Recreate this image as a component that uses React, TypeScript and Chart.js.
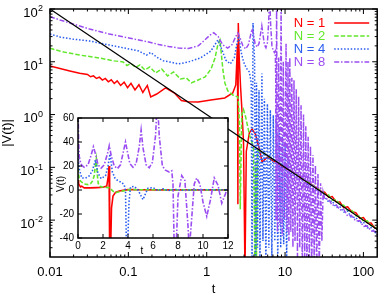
import React, { useEffect, useRef } from 'react';
import { Chart, registerables } from 'chart.js';
Chart.register(...registerables);

const FONT = '"Liberation Sans", Arial, Helvetica, sans-serif';

// ---------- main plot (log-log) ----------
const xTickValues = [0.01, 0.1, 1, 10, 100];
const xTickLabels = ['0.01', '0.1', '1', '10', '100'];
const yTickValues = [100, 10, 1, 0.1, 0.01];
const yTickExps = ['2', '1', '0', '-1', '-2'];

const refT = [0.01, 150];
const refV = [100, 0.00667];

const tailT = [32, 36, 40, 45, 50, 56, 63, 70, 80, 90, 100, 112, 125, 140, 150];

const n1T = [0.01, 0.0134, 0.0179, 0.0239, 0.0301, 0.0329, 0.0359, 0.0392, 0.0427, 0.0466, 0.0508, 0.0555, 0.0605, 0.0661, 0.072, 0.0797, 0.0883, 0.0977, 0.108, 0.1215, 0.1365, 0.153, 0.1746, 0.193, 0.23, 0.2985, 0.388, 0.475, 0.582, 0.779, 1.13, 1.7, 2.15, 2.35, 2.43, 2.47, 2.5, 2.53, 2.6, 2.7, 2.8, 2.95, 3.08, 3.2, 3.5, 3.8, 4.2, 4.7, 5.1, 5.5, 5.95, 6.6, 8, 10, 12, 14, 16, 18, 20, 23, 26, 29];
const n1V = [8.32, 7.46, 6.7, 6.05, 5.75, 5.2, 5.41, 4.83, 5.11, 4.5, 4.83, 4.18, 4.56, 3.88, 4.35, 3.56, 4.11, 3.23, 3.9, 2.92, 3.67, 2.62, 3.56, 2.15, 2.45, 3.19, 2.56, 1.85, 1.75, 1.73, 1.89, 2.06, 2.56, 3.64, 12, 22, 0.02, 54, 12, 3.5, 1.4, 0.3, 0.001, 0.2, 0.45, 0.53, 0.42, 0.22, 0.126, 0.14, 0.157, 0.14, 0.12, 0.096, 0.086, 0.073, 0.065, 0.057, 0.052, 0.045, 0.04, 0.035];
const n1Tail = [0.0338, 0.0272, 0.028, 0.0222, 0.022, 0.0173, 0.0179, 0.0146, 0.0138, 0.0109, 0.0112, 0.0089, 0.0088, 0.00707, 0.00707];

const n2T = [0.01, 0.015, 0.0239, 0.0427, 0.0661, 0.0857, 0.0963, 0.108, 0.1233, 0.1405, 0.1624, 0.1877, 0.2235, 0.266, 0.3166, 0.377, 0.462, 0.55, 0.636, 0.779, 0.954, 1.137, 1.276, 1.393, 1.476, 1.542, 1.61, 1.706, 1.862, 2.153, 2.489, 2.56, 2.62, 2.68, 2.8, 2.95, 3.14, 3.53, 3.96, 4.12, 4.22, 4.32, 4.45, 5.14, 6.87, 8, 10, 12, 14, 16, 18, 20, 23, 26, 29];
const n2V = [18, 15.3, 13.4, 11.8, 10.4, 9.91, 8.51, 9.29, 7.8, 8.7, 7.0, 7.97, 6.14, 7.31, 5.39, 6.41, 4.72, 4.93, 3.97, 4.52, 5.16, 7.31, 11.8, 21.7, 25.9, 13.4, 7.0, 3.97, 2.8, 2.35, 2.16, 1.5, 0.6, 0.016, 1.0, 1.25, 0.9, 0.4, 0.24, 0.001, 0.12, 0.002, 0.21, 0.19, 0.145, 0.128, 0.101, 0.085, 0.074, 0.064, 0.058, 0.051, 0.045, 0.039, 0.036];
const n2Tail = [0.03125, 0.03, 0.02375, 0.02444, 0.0196, 0.0191, 0.01492, 0.01572, 0.01213, 0.012, 0.0095, 0.00973, 0.00784, 0.00757, 0.00667];

const n4T = [0.01, 0.0134, 0.0194, 0.0319, 0.049, 0.0764, 0.102, 0.136, 0.171, 0.193, 0.23, 0.28, 0.34, 0.436, 0.582, 0.83, 1.13, 1.39, 1.57, 1.75, 2.0, 2.25, 2.4, 2.56, 2.75, 2.95, 3.2, 3.5, 3.7, 3.79, 3.9, 4.08, 4.2, 4.32, 4.45, 4.65, 4.78, 5.07, 5.22, 5.45, 5.69, 5.95, 6.21, 6.49, 6.78, 7.08, 7.4, 7.73, 8.07, 8.43, 8.8, 9.19, 9.6, 10.03, 10.48, 10.94, 11.5, 12, 14, 16, 18, 20, 23, 26, 29];
const n4V = [33.6, 29.5, 27.0, 24.8, 21.7, 19.1, 17.5, 16.0, 13.4, 15.0, 12.3, 10.4, 9.9, 9.1, 9.9, 11.8, 16, 25.9, 16.7, 10.8, 9.1, 11.8, 20, 30.8, 15.3, 10, 7.6, 6.4, 4, 0.001, 54, 10.8, 0.001, 4.0, 0.003, 2.9, 0.002, 6.0, 0.004, 2.0, 0.0015, 1.6, 0.003, 1.22, 0.002, 0.98, 0.004, 0.76, 0.0018, 0.58, 0.003, 0.39, 0.0035, 0.25, 0.002, 0.16, 0.09, 0.078, 0.066, 0.058, 0.051, 0.046, 0.04, 0.035, 0.031];
const n4Tail = [0.0275, 0.0222, 0.023, 0.01733, 0.018, 0.01429, 0.01476, 0.01129, 0.01125, 0.00889, 0.0092, 0.00714, 0.0072, 0.00586, 0.00573];

const n8T = [0.01, 0.0134, 0.0179, 0.0239, 0.0319, 0.0427, 0.0571, 0.0764, 0.102, 0.136, 0.182, 0.244, 0.326, 0.436, 0.582, 0.78, 0.95, 1.1, 1.23, 1.4, 1.6, 1.85, 2.1, 2.35, 2.5, 2.65, 2.9, 3.15, 3.4, 3.65, 3.8, 3.95, 4.15, 4.4, 4.65, 4.9, 5.05, 5.2, 5.45, 5.7, 5.95, 6.15, 6.35, 6.55, 6.8, 7.05, 7.3, 7.5, 7.6, 7.66, 7.8, 8.0, 8.3, 8.6, 8.9, 9.2, 9.5, 9.85, 10.3, 10.6, 10.9, 11.2, 11.5, 11.85, 12.2, 12.6, 13.0, 13.4, 13.9, 14.4, 14.9, 15.4, 16.0, 16.6, 17.2, 17.8, 18.4, 19.0, 19.7, 20.4, 21.1, 21.9, 22.7, 23.5, 24.4, 25.3, 26.3, 27.3, 28.4, 29.5, 30.6];
const n8V = [71.5, 61.9, 54.3, 47.6, 41.8, 37.5, 33.6, 30.8, 28.2, 25.9, 23.7, 21.3, 19.5, 18.2, 17.9, 20, 26, 32, 35.5, 30, 21, 18.2, 21, 30, 35.5, 29, 20, 17.5, 21, 33, 42, 32, 22, 19, 22, 36, 48, 35, 21, 18.5, 23, 50, 180, 50, 20, 16.5, 15, 16, 5, 0.01, 150, 0.006, 12, 0.008, 130, 0.005, 10, 0.01, 22, 0.006, 10, 0.004, 12, 0.006, 5, 0.003, 4.5, 0.004, 3, 0.002, 2.2, 0.003, 1.5, 0.001, 1.0, 0.002, 0.6, 0.001, 0.38, 0.0015, 0.25, 0.001, 0.17, 0.002, 0.11, 0.001, 0.075, 0.0012, 0.05, 0.004, 0.034];
const n8Tail = [0.025, 0.025, 0.019, 0.01956, 0.0156, 0.01607, 0.0119, 0.01229, 0.00963, 0.00978, 0.0076, 0.00777, 0.00624, 0.00614, 0.00533];

// ---------- inset (linear) ----------
const insetXTicks = [0, 2, 4, 6, 8, 10, 12];
const insetYTicks = [-40, -20, 0, 20, 40, 60];

const in1T = [0, 0.05, 0.1, 0.2, 0.3, 0.5, 1.0, 1.5, 2.0, 2.3, 2.43, 2.48, 2.51, 2.55, 2.62, 2.68, 2.8, 3.0, 3.3, 3.6, 4.0, 5, 6, 8, 10, 12];
const in1V = [8.3, 5.2, 4.2, 2.6, 3.2, 1.8, 1.75, 2.0, 2.3, 3.3, 12, 20, -10, -45, -45, -15, -5, -2, -0.8, -0.3, 0.3, 0.2, 0.1, 0.1, 0.1, 0.08];

const in2T = [0, 0.05, 0.1, 0.2, 0.3, 0.5, 0.8, 1.0, 1.15, 1.3, 1.4, 1.47, 1.54, 1.62, 1.75, 1.9, 2.2, 2.5, 2.65, 2.8, 3.0, 3.3, 3.7, 4.2, 5, 8, 12];
const in2V = [18, 13, 9.5, 7.5, 6.5, 5, 4.5, 5.2, 7.3, 12, 21.7, 26, 13, 5.5, 3, 2.6, 2.3, 1.8, 0.5, -1, -2.3, -1.5, -0.5, 0.3, 0.2, 0.1, 0.1];

const in4T = [0, 0.05, 0.1, 0.3, 0.6, 0.9, 1.15, 1.39, 1.6, 1.85, 2.2, 2.4, 2.56, 2.75, 2.95, 3.2, 3.5, 3.7, 3.8, 3.87, 3.98, 4.08, 4.2, 4.5, 4.8, 5.05, 5.2, 5.4, 5.6, 6.0, 6.4, 6.8, 7.2, 7.7, 8.5, 9.5, 12];
const in4V = [34, 22, 17.5, 10, 9.9, 11.8, 16, 25, 14, 9.5, 11.8, 20, 30, 15, 10, 7.6, 6.4, 4, 0, -45, -45, -10, 2.5, 3, 0, -5, -8, -3, 1.5, 2, -0.5, 1, -0.5, 0.5, -0.3, 0.2, 0.1];

const in8T = [0, 0.05, 0.1, 0.2, 0.3, 0.5, 0.8, 1.05, 1.23, 1.4, 1.6, 1.85, 2.1, 2.35, 2.5, 2.65, 2.9, 3.15, 3.4, 3.65, 3.8, 3.95, 4.15, 4.4, 4.65, 4.9, 5.05, 5.2, 5.45, 5.7, 5.95, 6.2, 6.35, 6.5, 6.75, 7.0, 7.3, 7.5, 7.6, 7.7, 7.85, 8.0, 8.3, 8.55, 8.8, 8.9, 9.05, 9.3, 9.5, 9.75, 10.0, 10.3, 10.6, 10.9, 11.2, 11.5, 11.8, 12];
const in8V = [72, 40, 28, 23, 20.5, 19, 21, 29, 36, 30, 21, 18.2, 21, 30, 37, 29, 20, 17.8, 21, 33, 40, 32, 22, 19, 22, 36, 50, 35, 21, 18.5, 23, 45, 75, 45, 20, 16.5, 15, 16, 5, -50, -50, -5, 12, 8, -30, -50, -30, 5, 10, 5, -10, -22, -8, 10, 4, -11, -3, 3];

const legendLabels = ['N = 1', 'N = 2', 'N = 4', 'N = 8'];

const C1 = '#ff0000';
const C2 = '#62e82a';
const C4 = '#2a5cf0';
const C8 = '#9b4df2';

function pts(t: number[], v: number[]) {
  const n = Math.min(t.length, v.length);
  const out: { x: number; y: number }[] = [];
  for (let i = 0; i < n; i++) out.push({ x: t[i], y: v[i] });
  return out;
}

function minorLog(min: number, max: number) {
  const out: number[] = [];
  for (let e = -3; e <= 2; e++) {
    for (let m = 2; m <= 9; m++) {
      const v = m * Math.pow(10, e);
      if (v > min * 1.0001 && v < max * 0.9999) out.push(v);
    }
  }
  return out;
}

const mainDecor = {
  id: 'mainDecor',
  afterDraw(chart: any) {
    const { ctx, chartArea: a, scales } = chart;
    const x = scales.x, y = scales.y;
    ctx.save();
    ctx.strokeStyle = '#000';
    ctx.lineWidth = 1;
    ctx.setLineDash([]);
    const seg = (x1: number, y1: number, x2: number, y2: number) => {
      ctx.beginPath(); ctx.moveTo(x1, y1); ctx.lineTo(x2, y2); ctx.stroke();
    };
    for (const v of minorLog(0.01, 150)) {
      const p = x.getPixelForValue(v);
      seg(p, a.bottom, p, a.bottom - 2.5); seg(p, a.top, p, a.top + 2.5);
    }
    for (const v of xTickValues) {
      const p = x.getPixelForValue(v);
      seg(p, a.bottom, p, a.bottom - 5); seg(p, a.top, p, a.top + 5);
    }
    for (const v of minorLog(0.002, 100)) {
      const p = y.getPixelForValue(v);
      seg(a.left, p, a.left + 2.5, p); seg(a.right, p, a.right - 2.5, p);
    }
    for (const v of yTickValues) {
      const p = y.getPixelForValue(v);
      seg(a.left, p, a.left + 5, p); seg(a.right, p, a.right - 5, p);
    }
    ctx.lineWidth = 1.5;
    ctx.strokeRect(a.left, a.top, a.right - a.left, a.bottom - a.top);

    // y tick labels with superscript exponents
    ctx.fillStyle = '#000';
    ctx.textBaseline = 'alphabetic';
    ctx.textAlign = 'right';
    const rx = a.left - 7;
    yTickValues.forEach((v, i) => {
      const p = y.getPixelForValue(v);
      ctx.font = `9px ${FONT}`;
      const ew = ctx.measureText(yTickExps[i]).width;
      ctx.fillText(yTickExps[i], rx, p + 2.2);
      ctx.font = `13px ${FONT}`;
      ctx.fillText('10', rx - ew - 0.3, p + 7.8);
    });

    // legend
    ctx.font = `13px ${FONT}`;
    ctx.textBaseline = 'middle';
    legendLabels.forEach((lab, i) => {
      const ds = chart.data.datasets.find((d: any) => d.label === lab);
      if (!ds) return;
      const ry = a.top + 14 + i * 13;
      ctx.fillStyle = ds.borderColor;
      ctx.textAlign = 'right';
      ctx.fillText(lab, a.right - 52, ry);
      ctx.strokeStyle = ds.borderColor;
      ctx.lineWidth = 1.5;
      ctx.setLineDash(ds.borderDash || []);
      seg(a.right - 43, ry, a.right - 8, ry);
      ctx.setLineDash([]);
    });
    ctx.restore();
  },
};

const insetDecor = {
  id: 'insetDecor',
  beforeDraw(chart: any) {
    const { ctx, chartArea: a } = chart;
    ctx.save();
    ctx.fillStyle = '#fff';
    ctx.fillRect(a.left, a.top, a.right - a.left, a.bottom - a.top);
    ctx.restore();
  },
  afterDraw(chart: any) {
    const { ctx, chartArea: a, scales } = chart;
    const x = scales.x, y = scales.y;
    ctx.save();
    ctx.strokeStyle = '#000';
    ctx.lineWidth = 1;
    const seg = (x1: number, y1: number, x2: number, y2: number) => {
      ctx.beginPath(); ctx.moveTo(x1, y1); ctx.lineTo(x2, y2); ctx.stroke();
    };
    for (const v of insetXTicks) {
      const p = x.getPixelForValue(v);
      seg(p, a.bottom, p, a.bottom - 4); seg(p, a.top, p, a.top + 4);
    }
    for (const v of insetYTicks) {
      const p = y.getPixelForValue(v);
      seg(a.left, p, a.left + 4, p); seg(a.right, p, a.right - 4, p);
    }
    ctx.lineWidth = 1.5;
    ctx.strokeRect(a.left, a.top, a.right - a.left, a.bottom - a.top);
    ctx.fillStyle = '#000';
    ctx.font = `10px ${FONT}`;
    ctx.textAlign = 'center';
    ctx.textBaseline = 'middle';
    ctx.fillText('t', a.left + 64, a.bottom + 13.5);
    ctx.save();
    ctx.translate(a.left - 17, a.top + 66);
    ctx.rotate(-Math.PI / 2);
    ctx.fillText('V(t)', 0, 0);
    ctx.restore();
    ctx.restore();
  },
};

export default function App() {
  const mainRef = useRef<HTMLCanvasElement>(null);
  const insetRef = useRef<HTMLCanvasElement>(null);

  useEffect(() => {
    const tickFont = { family: FONT, size: 13 };
    const main = new Chart(mainRef.current as HTMLCanvasElement, {
      type: 'line',
      data: {
        datasets: [
          { label: 'ref', data: pts(refT, refV), borderColor: '#000', borderWidth: 1.2, order: 0 },
          { label: 'N = 8', data: pts([...n8T, ...tailT], [...n8V, ...n8Tail]), borderColor: C8, borderDash: [5, 1.8, 1.5, 1.8], order: 1 },
          { label: 'N = 4', data: pts([...n4T, ...tailT], [...n4V, ...n4Tail]), borderColor: C4, borderDash: [1.5, 1.8], order: 2 },
          { label: 'N = 2', data: pts([...n2T, ...tailT], [...n2V, ...n2Tail]), borderColor: C2, borderDash: [4.5, 2], order: 3 },
          { label: 'N = 1', data: pts([...n1T, ...tailT], [...n1V, ...n1Tail]), borderColor: C1, order: 4 },
        ] as any,
      },
      options: {
        animation: false,
        responsive: false,
        devicePixelRatio: 1,
        events: [],
        layout: { padding: { top: 9, right: 1, left: 0, bottom: 0 } },
        elements: {
          point: { radius: 0, hoverRadius: 0 },
          line: { tension: 0, borderWidth: 1.5, fill: false },
        },
        plugins: { legend: { display: false }, tooltip: { enabled: false } },
        scales: {
          x: {
            type: 'logarithmic',
            position: 'bottom',
            min: 0.01,
            max: 150,
            grid: { display: false, drawTicks: false, tickLength: 0 },
            border: { display: false },
            afterBuildTicks: (s: any) => { s.ticks = xTickValues.map((v) => ({ value: v })); },
            afterFit: (s: any) => { s.height = 43; },
            ticks: {
              autoSkip: false,
              maxRotation: 0,
              padding: 7.7,
              color: '#000',
              font: tickFont,
              callback: (v: any) => {
                const i = xTickValues.indexOf(Number(v));
                return i >= 0 ? xTickLabels[i] : '';
              },
            },
            title: { display: true, text: 't', color: '#000', font: { family: FONT, size: 13 }, padding: { top: 0, bottom: 3 } },
          },
          y: {
            type: 'logarithmic',
            position: 'left',
            min: 0.002,
            max: 100,
            grid: { display: false, drawTicks: false, tickLength: 0 },
            border: { display: false },
            afterBuildTicks: (s: any) => { s.ticks = yTickValues.map((v) => ({ value: v })); },
            afterFit: (s: any) => { s.width = 50; },
            ticks: { display: false },
            title: { display: true, text: '|V(t)|', color: '#000', font: { family: FONT, size: 13, lineHeight: 1.0 }, padding: { top: 0.5, bottom: 0 } },
          },
        },
      } as any,
      plugins: [mainDecor],
    });

    const insetFont = { family: FONT, size: 10 };
    const inset = new Chart(insetRef.current as HTMLCanvasElement, {
      type: 'line',
      data: {
        datasets: [
          { label: 'N = 8', data: pts(in8T, in8V), borderColor: C8, borderDash: [5, 1.8, 1.5, 1.8], order: 1 },
          { label: 'N = 4', data: pts(in4T, in4V), borderColor: C4, borderDash: [1.5, 1.8], order: 2 },
          { label: 'N = 2', data: pts(in2T, in2V), borderColor: C2, borderDash: [4, 2], order: 3 },
          { label: 'N = 1', data: pts(in1T, in1V), borderColor: C1, order: 4 },
        ] as any,
      },
      options: {
        animation: false,
        responsive: false,
        devicePixelRatio: 1,
        events: [],
        layout: { padding: { top: 10, right: 12, left: 0, bottom: 0 } },
        elements: {
          point: { radius: 0, hoverRadius: 0 },
          line: { tension: 0, borderWidth: 1.6, fill: false },
        },
        plugins: { legend: { display: false }, tooltip: { enabled: false } },
        scales: {
          x: {
            type: 'linear',
            min: 0,
            max: 12,
            grid: { display: false, drawTicks: false, tickLength: 0 },
            border: { display: false },
            afterBuildTicks: (s: any) => { s.ticks = insetXTicks.map((v) => ({ value: v })); },
            afterFit: (s: any) => { s.height = 22; },
            ticks: { autoSkip: false, maxRotation: 0, padding: 2.5, color: '#000', font: insetFont },
          },
          y: {
            type: 'linear',
            min: -40,
            max: 60,
            grid: { display: false, drawTicks: false, tickLength: 0 },
            border: { display: false },
            afterBuildTicks: (s: any) => { s.ticks = insetYTicks.map((v) => ({ value: v })); },
            afterFit: (s: any) => { s.width = 38; },
            ticks: { autoSkip: false, padding: 4, color: '#000', font: insetFont },
          },
        },
      } as any,
      plugins: [insetDecor],
    });

    return () => {
      main.destroy();
      inset.destroy();
    };
  }, []);

  return (
    <div style={{ position: 'fixed', left: 0, top: 0, width: 382, height: 300, background: '#fff' }}>
      <canvas ref={mainRef} width={382} height={300} style={{ position: 'absolute', left: 0, top: 0, width: 382, height: 300 }} />
      <canvas ref={insetRef} width={200} height={152} style={{ position: 'absolute', left: 40, top: 108, width: 200, height: 152 }} />
    </div>
  );
}
